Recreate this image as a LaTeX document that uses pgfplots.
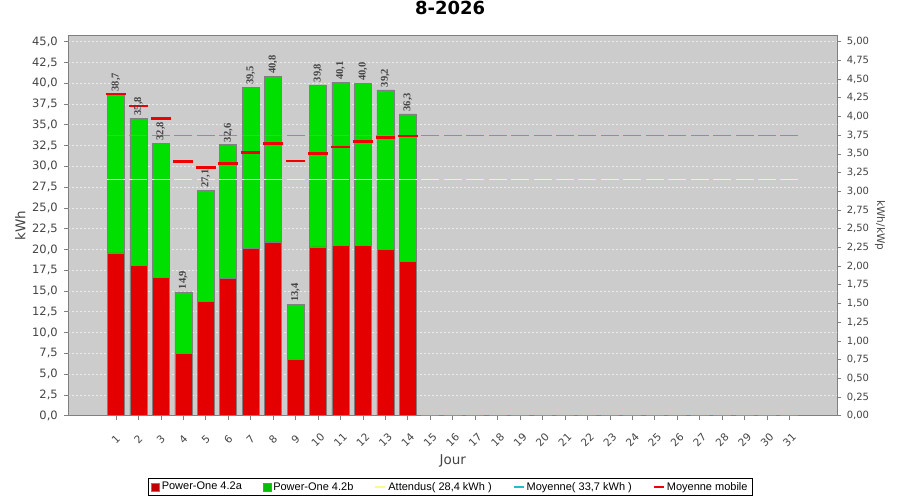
\documentclass[border=0pt]{standalone}
\usepackage{fontspec}
\setmainfont{DejaVu Sans}
\newfontfamily\legfont{Liberation Sans}
\newfontfamily\valfont{Liberation Serif}
\usepackage{pgfplots}
\pgfplotsset{compat=1.18}
\usepackage{pgfplotstable}

\definecolor{plotbg}{RGB}{204,204,204}
\definecolor{barred}{RGB}{228,0,0}
\definecolor{legred}{RGB}{192,0,0}
\definecolor{bargreen}{RGB}{0,224,0}
\definecolor{leggreen}{RGB}{0,192,0}
\definecolor{ticktext}{RGB}{68,68,68}
\definecolor{expyellow}{RGB}{250,250,140}
\definecolor{avgcyan}{RGB}{32,190,200}
\definecolor{marred}{RGB}{240,0,0}
\definecolor{gridc}{RGB}{235,235,235}

\pgfplotstableread{
day a b total ma
1 19.6 19.1 38.7 38.7
2 18.1 17.7 35.8 37.25
3 16.6 16.2 32.8 35.77
4 7.5 7.4 14.9 30.55
5 13.75 13.35 27.1 29.86
6 16.5 16.1 32.6 30.32
7 20.1 19.4 39.5 31.63
8 20.9 19.9 40.8 32.78
9 6.8 6.6 13.4 30.62
10 20.3 19.5 39.8 31.54
11 20.5 19.6 40.1 32.32
12 20.5 19.5 40.0 32.96
13 20.0 19.2 39.2 33.44
14 18.6 17.7 36.3 33.64
}\prodtable

\pgfplotstableread{
day ex av
1 28.4 33.7
2 28.4 33.7
3 28.4 33.7
4 28.4 33.7
5 28.4 33.7
6 28.4 33.7
7 28.4 33.7
8 28.4 33.7
9 28.4 33.7
10 28.4 33.7
11 28.4 33.7
12 28.4 33.7
13 28.4 33.7
14 28.4 33.7
15 28.4 33.7
16 28.4 33.7
17 28.4 33.7
18 28.4 33.7
19 28.4 33.7
20 28.4 33.7
21 28.4 33.7
22 28.4 33.7
23 28.4 33.7
24 28.4 33.7
25 28.4 33.7
26 28.4 33.7
27 28.4 33.7
28 28.4 33.7
29 28.4 33.7
30 28.4 33.7
31 28.4 33.7
}\reflines

\pgfplotstableread{
day z
15 0
16 0
17 0
18 0
19 0
20 0
21 0
22 0
23 0
24 0
25 0
26 0
27 0
28 0
29 0
30 0
31 0
}\zerotable

\begin{document}
\begin{tikzpicture}
\useasboundingbox (0,0) rectangle (900pt,500pt);
\pgfplotsset{common/.style={
  at={(68.3pt,84.3pt)}, anchor=south west,
  width=769pt, height=380.7pt, scale only axis,
  xmin=-1.12, xmax=33.13, ymin=0, ymax=45.8,
  /pgf/number format/assume math mode=true,
  tick label style={font=\fontsize{11.5}{13}\selectfont, text=ticktext},
  tick align=outside, major tick length=4pt,
  tick style={gray, line width=0.6pt},
}}
\begin{axis}[common,
  axis background/.style={fill=plotbg},
  axis line style={gray, line width=0.8pt},
  ybar stacked, bar width=17pt,
  xtick={1,...,31}, xtick pos=bottom, ytick pos=left,
  ytick={0,2.5,...,45},
  yticklabel style={xshift=-3pt, /pgf/number format/.cd, fixed, fixed zerofill, precision=1, use comma},
  xticklabel style={yshift=-20pt, rotate=45, anchor=center, inner sep=0.3pt, font=\fontsize{10.5}{12}\selectfont},
  ymajorgrids, grid style={gridc, dash pattern=on 2pt off 2pt, line width=0.6pt},
  xlabel={Jour}, ylabel={kWh},
  xlabel style={at={(axis description cs:0.5,0)}, anchor=center, yshift=-45pt, font=\fontsize{13.5}{15}\selectfont, text=ticktext},
  ylabel style={at={(axis description cs:-0.0625,0.5)}, anchor=center, font=\fontsize{13.5}{15}\selectfont, text=ticktext},
  title={\bfseries 8-2026},
  title style={at={(axis description cs:0.4965,1)}, anchor=center, yshift=21pt, font=\fontsize{18}{20}\selectfont},
]
\addplot[draw=gray, line width=0.5pt, fill=barred] table[x=day, y=a] {\prodtable};
\addplot[draw=gray, line width=0.5pt, fill=bargreen] table[x=day, y=b] {\prodtable};
\end{axis}
\begin{axis}[common,
  axis x line=none, axis y line*=right,
  axis line style={gray, line width=0.8pt},
  ytick={0,2.25,...,45},
  yticklabels={{0,00},{0,25},{0,50},{0,75},{1,00},{1,25},{1,50},{1,75},{2,00},{2,25},{2,50},{2,75},{3,00},{3,25},{3,50},{3,75},{4,00},{4,25},{4,50},{4,75},{5,00}},
  yticklabel style={font=\fontsize{10}{12}\selectfont, xshift=2pt},
  ylabel={kWh/kWp},
  ylabel style={at={(axis description cs:1.0555,0.5)}, anchor=center, rotate=180, font=\fontsize{10.5}{12}\selectfont, text=ticktext},
  legend columns=5,
  legend style={at={(0.497,-0.187)}, anchor=center, draw=black, line width=0.7pt, fill=white,
    font=\legfont\fontsize{11}{12}\selectfont, inner xsep=3pt, inner ysep=1.5pt,
    /tikz/every even column/.append style={column sep=19pt}},
  legend cell align=left,
]
\addlegendimage{legend image code/.code={\fill[legred, draw=gray, line width=0.4pt] (0pt,-4pt) rectangle (8pt,4pt);}}
\addlegendentry{Power-One 4.2a}
\addlegendimage{legend image code/.code={\fill[leggreen, draw=gray, line width=0.4pt] (0pt,-4pt) rectangle (8pt,4pt);}}
\addlegendentry{Power-One 4.2b}
\addplot[only marks, mark=-, mark size=9pt, mark options={line width=1.6pt, expyellow},
  legend image code/.code={\draw[line width=2pt, expyellow] (0pt,0pt) -- (10pt,0pt);}]
  table[x=day, y=ex] {\reflines};
\addlegendentry{Attendus( 28,4 kWh )}
\addplot[only marks, mark=-, mark size=9pt, mark options={line width=1.6pt, avgcyan},
  legend image code/.code={\draw[line width=2pt, avgcyan] (0pt,0pt) -- (10pt,0pt);}]
  table[x=day, y=av] {\reflines};
\addlegendentry{Moyenne( 33,7 kWh )}
\addplot[only marks, mark=-, mark size=9.8pt, mark options={line width=2.6pt, marred},
  legend image code/.code={\draw[line width=2pt, marred] (0pt,0pt) -- (10pt,0pt);}]
  table[x=day, y=ma] {\prodtable};
\addlegendentry{Moyenne mobile}
\addplot[forget plot, only marks, mark=-, mark size=9pt, mark options={line width=1pt, red!60!white}]
  table[x=day, y=z] {\zerotable};
\addplot[forget plot, only marks, mark=none, point meta=explicit,
  nodes near coords={\pgfmathprintnumber[fixed, fixed zerofill, precision=1, use comma]{\pgfplotspointmeta}},
  every node near coord/.append style={rotate=90, anchor=west, inner sep=2.5pt, font=\valfont\bfseries\fontsize{10.5}{12}\selectfont, text=ticktext},
] table[x=day, y=total, meta=total] {\prodtable};
\end{axis}
\end{tikzpicture}
\end{document}
